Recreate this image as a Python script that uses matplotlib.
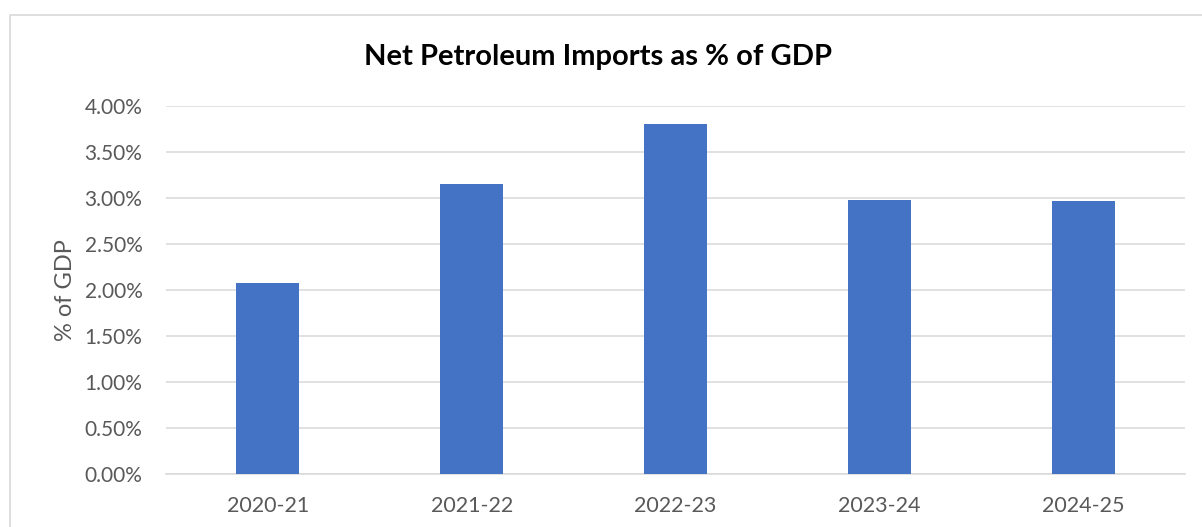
import matplotlib.pyplot as plt
from matplotlib.lines import Line2D
from matplotlib.ticker import FuncFormatter

years = ["2020-21", "2021-22", "2022-23", "2023-24", "2024-25"]
import_share = [2.08, 3.15, 3.80, 2.98, 2.97]  # % of GDP
y_ticks = [0.0, 0.5, 1.0, 1.5, 2.0, 2.5, 3.0, 3.5, 4.0]

BAR_COLOR = "#4472C4"
GRID_COLOR = "#D9D9D9"
TEXT_GRAY = "#595959"

plt.rcParams["font.family"] = ["Lato", "DejaVu Sans"]

W, H = 1202, 527
fig = plt.figure(figsize=(W / 100, H / 100), dpi=100)
ax = fig.add_axes([166 / W, 53 / H, 1019 / W, 368 / H])

x = list(range(len(years)))
ax.bar(x, import_share, width=0.31, color=BAR_COLOR, zorder=3)

ax.set_xlim(-0.5, len(years) - 0.5)
ax.set_ylim(0, 4.0)
ax.set_yticks(y_ticks)
ax.yaxis.set_major_formatter(FuncFormatter(lambda v, _: f"{v:.2f}%"))
ax.set_xticks(x)
ax.set_xticklabels(years)

ax.grid(axis="y", color=GRID_COLOR, linewidth=1.1, zorder=0)
for side in ["top", "right", "left"]:
    ax.spines[side].set_visible(False)
ax.spines["bottom"].set_color(GRID_COLOR)
ax.spines["bottom"].set_linewidth(1.1)
ax.tick_params(axis="both", length=0, colors=TEXT_GRAY)
ax.tick_params(axis="y", pad=17, labelsize=15)
ax.tick_params(axis="x", pad=16, labelsize=15.5)

ax.set_ylabel("% of GDP", fontsize=17, color=TEXT_GRAY, labelpad=6)

fig.text(0.4975, 1 - 57 / H, "Net Petroleum Imports as % of GDP",
         ha="center", va="center", fontsize=21, fontweight="bold", color="black")

# chart frame (left and top edges)
fig.add_artist(Line2D([10.5 / W, 10.5 / W, 1.0], [0.0, 1 - 14.5 / H, 1 - 14.5 / H],
                      transform=fig.transFigure, color=GRID_COLOR, linewidth=1.2))

fig.savefig("out.png", dpi=100, facecolor="white")
